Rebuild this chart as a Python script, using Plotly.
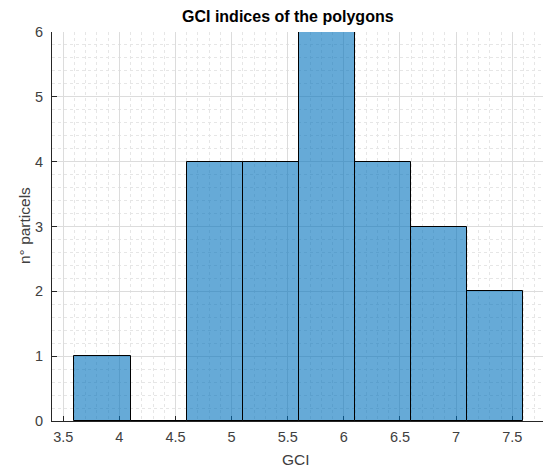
import plotly.graph_objects as go

bin_edges = [3.6, 4.1, 4.6, 5.1, 5.6, 6.1, 6.6, 7.1, 7.6]
counts = [1, 0, 4, 4, 6, 4, 3, 2]
x_ticks = [3.5, 4, 4.5, 5, 5.5, 6, 6.5, 7, 7.5]
x_tick_labels = ["3.5", "4", "4.5", "5", "5.5", "6", "6.5", "7", "7.5"]
y_ticks = [0, 1, 2, 3, 4, 5, 6]

left_edges = bin_edges[:-1]
widths = [b - a for a, b in zip(bin_edges[:-1], bin_edges[1:])]

FONT = "Liberation Sans, Arial, Helvetica, sans-serif"
AX = "#262626"

fig = go.Figure()
fig.add_trace(go.Bar(
    x=left_edges, y=counts, width=widths, offset=0,
    marker=dict(color="rgba(0,114,189,0.6)", line=dict(color="black", width=1)),
    showlegend=False,
))

W, H = 543, 470
L, R, T, B = 52, 0, 32, 49

fig.update_layout(
    width=W, height=H,
    margin=dict(l=L, r=R, t=T, b=B, pad=0),
    paper_bgcolor="white", plot_bgcolor="white",
    font=dict(family=FONT, size=14, color=AX),
    bargap=0,
    xaxis=dict(
        range=[3.4, 3.4 + (W - L - R) / 112.25],
        tickvals=x_ticks, ticktext=x_tick_labels,
        ticks="inside", ticklen=5, tickcolor=AX, tickwidth=1,
        showline=True, linecolor=AX, linewidth=1, mirror=False,
        showgrid=True, gridcolor="#dcdcdc", gridwidth=1,
        minor=dict(dtick=0.1, tick0=3.5, showgrid=True, gridcolor="#e6e6e6",
                   griddash="dot", gridwidth=1, ticks=""),
        zeroline=False, tickfont=dict(size=14.5, color="#404040"),
        ticklabelstandoff=3,
        layer="below traces",
    ),
    yaxis=dict(
        range=[0, 6],
        tickvals=y_ticks,
        ticks="inside", ticklen=5, tickcolor=AX, tickwidth=1,
        showline=True, linecolor=AX, linewidth=1, mirror=False,
        showgrid=True, gridcolor="#dcdcdc", gridwidth=1,
        minor=dict(dtick=0.2, tick0=0, showgrid=True, gridcolor="#e6e6e6",
                   griddash="dot", gridwidth=1, ticks=""),
        zeroline=False, tickfont=dict(size=14.5, color="#404040"),
        ticklabelstandoff=5,
        layer="below traces",
    ),
    annotations=[
        dict(text="<b>GCI indices of the polygons</b>", xref="paper", yref="paper",
             x=(287.5 - L) / (W - L - R), y=1 + (T - 17) / (H - T - B),
             xanchor="center", yanchor="middle", showarrow=False,
             font=dict(size=16, color="black", family=FONT)),
        dict(text="GCI", xref="paper", yref="paper",
             x=(296 - L) / (W - L - R), y=-(459 - (H - B)) / (H - T - B),
             xanchor="center", yanchor="middle", showarrow=False,
             font=dict(size=15.5, color="#404040", family=FONT)),
        dict(text="n° particels", xref="paper", yref="paper",
             x=-(L - 24) / (W - L - R), y=(H - B - 226) / (H - T - B),
             xanchor="center", yanchor="middle", showarrow=False, textangle=-90,
             font=dict(size=15.5, color="#404040", family=FONT)),
    ],
)

fig.write_html("out.html")
